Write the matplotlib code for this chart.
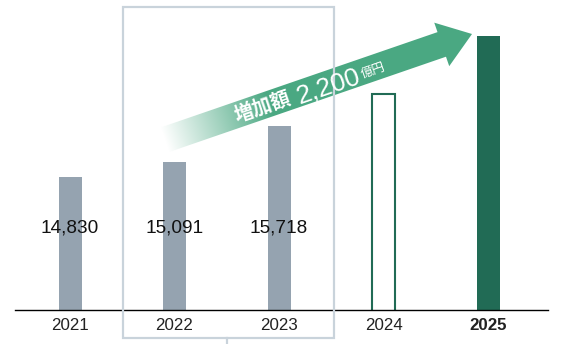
import numpy as np
import matplotlib
matplotlib.use('Agg')
import matplotlib.pyplot as plt
from matplotlib.patches import Polygon, Rectangle
from matplotlib.lines import Line2D

years = ["2021", "2022", "2023", "2024", "2025"]
values = [14830, 15091, 15718, 16290, 17291]
labels = ["14,830", "15,091", "15,718", "", ""]
arrow_text = ["増加額", "2,200", "億円"]

GRAY = "#95a3b0"
DARK = "#216b55"
ARROW = "#4aa882"
BOX = "#c9d3db"

plt.rcParams['font.family'] = ['Liberation Sans', 'Noto Sans CJK JP', 'DejaVu Sans']


def main() -> None:
    fig = plt.figure(figsize=(5.76, 3.44), dpi=100)
    ax = fig.add_axes([0, 34.5 / 344, 1, 309.5 / 344])
    ax.set_xlim(-0.67, 4.842)
    ax.set_ylim(12534, 17917)
    ax.set_axis_off()

    x = np.arange(len(years))
    w = 0.22
    ax.bar(x[:3], values[:3], width=w, color=GRAY, bottom=0)
    ax.bar(x[3], values[3], width=w, color="white", edgecolor=DARK, linewidth=1.5)
    ax.bar(x[4], values[4], width=w, color=DARK)

    for i, lab in enumerate(labels):
        if lab:
            ax.text(x[i], 13950, lab, ha='center', va='center', fontsize=13.7, color="#111111")

    ax.plot([-0.526, 4.574], [12534, 12534], color="black", lw=1.0, clip_on=False)

    for i, yr in enumerate(years):
        ax.text(x[i], 12534 - 16 / 0.0575, yr, ha='center', va='center', fontsize=12.2,
                color="#222222", fontweight='bold' if yr == "2025" else 'normal')

    # overlay in pixel coords (y down)
    ov = fig.add_axes([0, 0, 1, 1], facecolor='none')
    ov.set_xlim(0, 576)
    ov.set_ylim(344, 0)
    ov.set_axis_off()

    # gradient arrow
    th = np.deg2rad(19)
    u = np.array([np.cos(th), -np.sin(th)])
    n = np.array([np.sin(th), np.cos(th)])
    tip = np.array([472.0, 34.0])
    head_len, head_hw, shaft_hw = 32, 23, 13
    base = tip - head_len * u
    L = (base[0] - 165) / u[0]
    tail = base - L * u
    pts = [tail - shaft_hw * n, base - shaft_hw * n, base - head_hw * n, tip,
           base + head_hw * n, base + shaft_hw * n, tail + shaft_hw * n]
    poly = Polygon(pts, closed=True, facecolor='none', edgecolor='none')
    ov.add_patch(poly)

    gx, gy = np.meshgrid(np.arange(576) + 0.5, np.arange(344) + 0.5)
    proj = (gx - tail[0]) * u[0] + (gy - tail[1]) * u[1]
    t = np.clip(proj / (L * 0.38), 0, 1)
    rgb = np.array(matplotlib.colors.to_rgb(ARROW))
    img = np.ones((344, 576, 4))
    img[..., :3] = 1 - t[..., None] * (1 - rgb)
    im = ov.imshow(img, extent=(0, 576, 344, 0), interpolation='bilinear', zorder=2)
    im.set_clip_path(poly)
    ov.set_xlim(0, 576)
    ov.set_ylim(344, 0)

    # highlight box around 2022-2023, drawn over the arrow
    ov.add_patch(Rectangle((123, 7), 211, 331, fill=False, edgecolor=BOX, lw=1.6, zorder=4))
    ov.add_line(Line2D([227, 227], [338, 344], color=BOX, lw=1.6, zorder=4))

    ov.text(263, 107, arrow_text[0], rotation=19, rotation_mode='anchor', ha='center',
            va='center', fontsize=14, color='white', fontweight='bold',
            family=['Noto Sans CJK JP'], zorder=5)
    ov.text(328, 86, arrow_text[1], rotation=19, rotation_mode='anchor', ha='center',
            va='center', fontsize=19, color='white', zorder=5)
    ov.text(373, 71, arrow_text[2], rotation=19, rotation_mode='anchor', ha='center',
            va='center', fontsize=9, color='white', family=['Noto Sans CJK JP'], zorder=5)

    fig.savefig("out.png", dpi=100)


if __name__ == "__main__":
    main()
